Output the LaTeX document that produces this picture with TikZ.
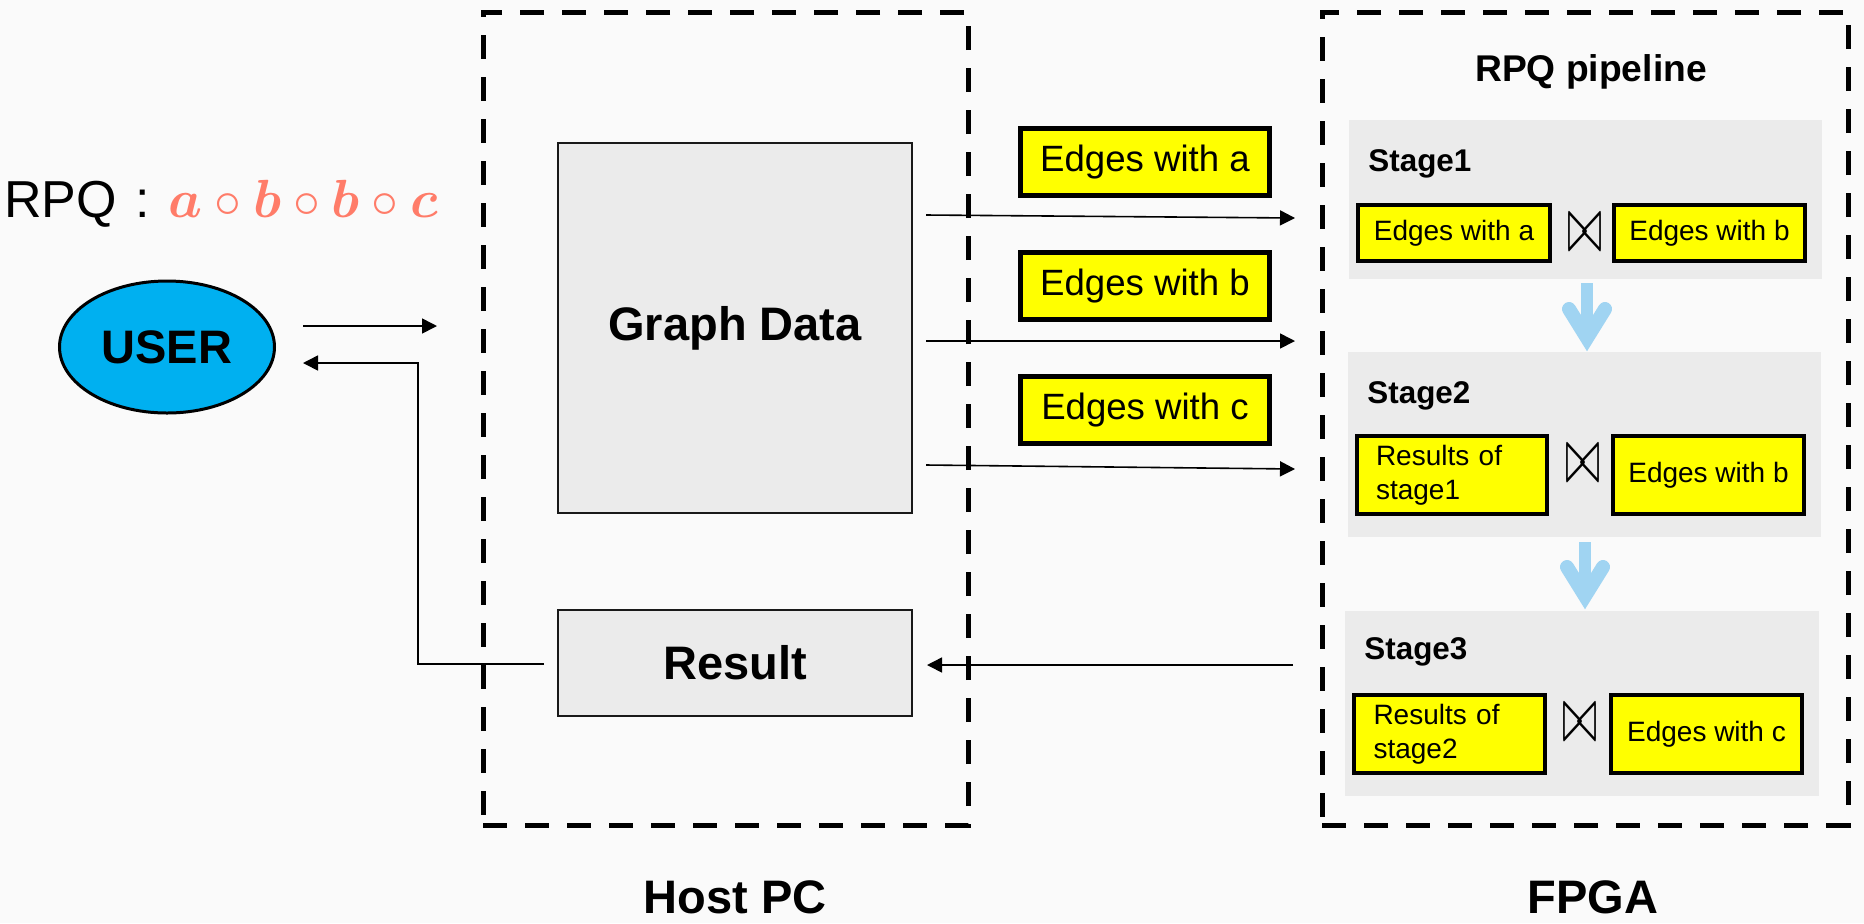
\documentclass[tikz,border=0pt]{standalone}
\usepackage{fontspec}
\setmainfont{Liberation Sans}
\usepackage{bm}
\usepackage{graphicx}
\usetikzlibrary{arrows.meta,shapes.geometric,calc}

\definecolor{bg}{RGB}{250,250,250}
\definecolor{panel}{RGB}{235,235,235}
\definecolor{hl}{RGB}{255,255,0}
\definecolor{userblue}{RGB}{0,176,240}
\definecolor{flow}{RGB}{160,212,242}
\definecolor{expr}{RGB}{255,124,105}

\newcommand{\joinop}{\resizebox*{17.5pt}{18.5pt}{$\bowtie$}}
% rectangle node spanning (x1,y1)-(x2,y2) in pixel units: style, x1, y1, x2, y2, name
\newcommand{\boxnode}[6]{\node[#1, minimum width={(#4-#2)*0.5pt}, minimum height={(#5-#3)*0.5pt}]
  (#6) at ({(#2+#4)/2},{(#3+#5)/2})}

\tikzset{
  dashbox/.style={draw, line width=2.5pt, dash pattern=on 12pt off 9pt, inner sep=0pt},
  greybox/.style={draw=black!90, line width=1.2pt, fill=panel, inner sep=0pt,
    font=\fontsize{23.5pt}{28pt}\selectfont\bfseries},
  stagebox/.style={fill=panel, inner sep=0pt},
  bigtag/.style={draw, line width=2.5pt, fill=hl, inner sep=0pt,
    font=\fontsize{18.3pt}{22pt}\selectfont},
  tag/.style={draw, line width=2.2pt, fill=hl, inner sep=0pt,
    font=\fontsize{14pt}{17pt}\selectfont},
  twoline/.style={tag, text width=76pt, align=left},
  stagelabel/.style={anchor=base west, inner sep=0pt,
    font=\fontsize{15.7pt}{19pt}\selectfont\bfseries},
  biglabel/.style={anchor=base, inner sep=0pt,
    font=\fontsize{23.5pt}{28pt}\selectfont\bfseries},
  link/.style={line width=0.8pt, -{Triangle[length=7.5pt,width=7.5pt]}},
  flowshaft/.style={draw=flow, line width=6pt},
  flowhead/.style={draw=flow, line width=7pt, line cap=round, line join=miter},
}

\begin{document}
\begin{tikzpicture}[x=0.5pt, y=-0.5pt]
  % canvas
  \fill[bg] (0,0) rectangle (1864,923);
  \useasboundingbox (0,0) rectangle (1864,923);

  % query and user
  \node[anchor=base west, inner sep=0pt, font=\fontsize{26pt}{30pt}\selectfont] (query) at (4,217)
    {RPQ\hspace{2pt} :\hspace{2pt} {\fontsize{24.88pt}{30pt}\selectfont\color{expr}%
      \scalebox{1.08}{$\bm{a}\circ\bm{b}\circ\bm{b}\circ\bm{c}$}}};
  \node[ellipse, draw, line width=1.5pt, fill=userblue, inner sep=0pt,
        minimum width=107.5pt, minimum height=66pt,
        font=\fontsize{23.5pt}{28pt}\selectfont\bfseries] (user) at (167,347) {USER};

  % host side
  \boxnode{dashbox}{483}{12}{968}{825}{host} {};
  \boxnode{greybox}{558}{143}{912}{513}{graph} {Graph Data};
  \boxnode{greybox}{558}{610}{912}{716}{result} {Result};
  \node[biglabel] (hostlabel) at (735,913) {Host PC};

  % data sent to the device
  \boxnode{bigtag}{1020.5}{128.5}{1269.5}{195.5}{ea} {Edges with a};
  \boxnode{bigtag}{1020.5}{252.5}{1269.5}{319.5}{eb} {Edges with b};
  \boxnode{bigtag}{1020.5}{376.5}{1269.5}{443.5}{ec} {Edges with c};

  % device side
  \boxnode{dashbox}{1322}{12}{1848}{825}{fpga} {};
  \node[biglabel] (fpgalabel) at (1593,913) {FPGA};
  \node[anchor=base, inner sep=0pt, font=\fontsize{18.6pt}{22pt}\selectfont\bfseries]
    (pipe) at (1591,81) {RPQ pipeline};

  \boxnode{stagebox}{1349}{120}{1822}{279}{s1} {};
  \boxnode{stagebox}{1348}{352}{1821}{537}{s2} {};
  \boxnode{stagebox}{1345}{611}{1819}{796}{s3} {};

  \node[stagelabel] (s1label) at (1368,171) {Stage1};
  \node[stagelabel] (s2label) at (1367,403) {Stage2};
  \node[stagelabel] (s3label) at (1364,659) {Stage3};

  \boxnode{tag}{1358.2}{205.2}{1549.8}{260.8}{s1l} {Edges with a};
  \boxnode{tag}{1614.2}{205.2}{1804.8}{260.8}{s1r} {Edges with b};
  \node[inner sep=0pt] (j1) at (1585,233) {\joinop};

  \boxnode{twoline}{1357.2}{436.2}{1546.8}{513.8}{s2l} {Results of\\stage1};
  \boxnode{tag}{1613.2}{436.2}{1803.8}{513.8}{s2r} {Edges with b};
  \node[inner sep=0pt] (j2) at (1583,464) {\joinop};

  \boxnode{twoline}{1354.2}{695.2}{1544.8}{772.8}{s3l} {Results of\\stage2};
  \boxnode{tag}{1611.2}{695.2}{1801.8}{772.8}{s3r} {Edges with c};
  \node[inner sep=0pt] (j3) at (1580,723) {\joinop};

  % stage to stage flow
  \coordinate (f1top) at (1587,283);
  \coordinate (f1tip) at (1587,338);
  \draw[flowshaft] (f1top) -- ($(f1tip)+(0,-2)$);
  \draw[flowhead] ($(f1tip)+(-18,-29)$) -- (f1tip) -- ($(f1tip)+(18,-29)$);

  \coordinate (f2top) at (1585,542);
  \coordinate (f2tip) at (1585,596);
  \draw[flowshaft] (f2top) -- ($(f2tip)+(0,-2)$);
  \draw[flowhead] ($(f2tip)+(-18,-29)$) -- (f2tip) -- ($(f2tip)+(18,-29)$);

  % user <-> host
  \coordinate (uout) at (303,326);
  \coordinate (hin) at (437,326);
  \draw[link] (uout) -- (hin);
  \coordinate (rout) at (544,664);
  \coordinate (bend) at (418,664);
  \coordinate (bend2) at (418,363);
  \coordinate (uin) at (303,363);
  \draw[link] (rout) -- (bend) -- (bend2) -- (uin);

  % host -> device
  \coordinate (ga0) at (926,215);
  \coordinate (ga1) at (1295,218);
  \coordinate (gb0) at (926,341);
  \coordinate (gb1) at (1295,341);
  \coordinate (gc0) at (926,465);
  \coordinate (gc1) at (1295,469);
  \draw[link] (ga0) -- (ga1);
  \draw[link] (gb0) -- (gb1);
  \draw[link] (gc0) -- (gc1);

  % device -> host
  \coordinate (dout) at (1293,665);
  \coordinate (rin) at (927,665);
  \draw[link] (dout) -- (rin);
\end{tikzpicture}
\end{document}
